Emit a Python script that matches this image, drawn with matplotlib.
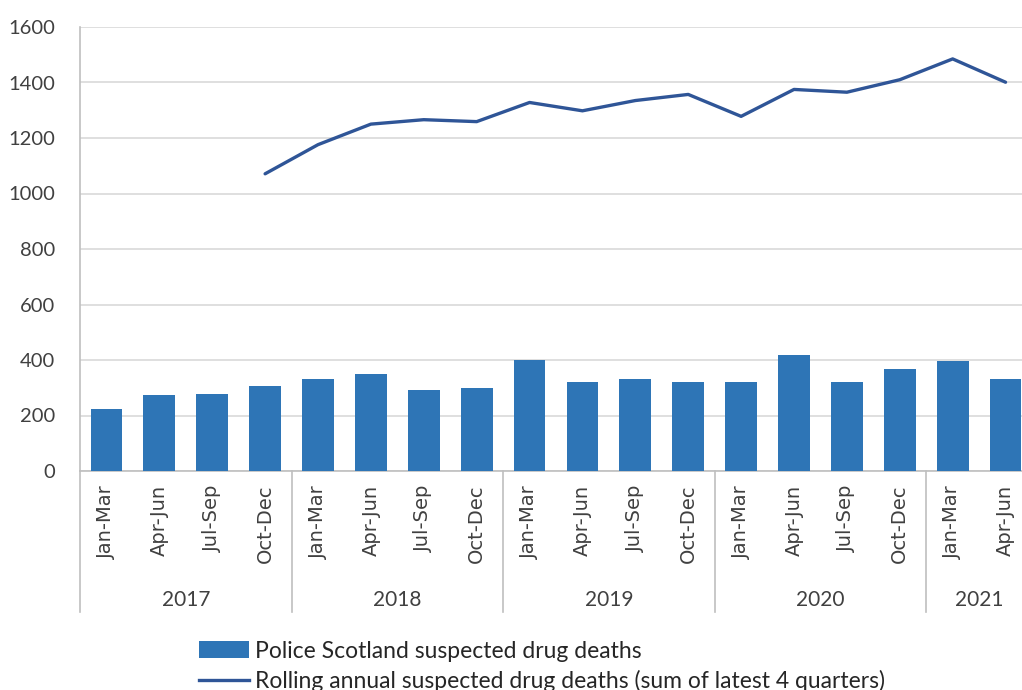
import numpy as np
import matplotlib
matplotlib.use('Agg')
import matplotlib.pyplot as plt
from matplotlib.patches import Patch
from matplotlib.lines import Line2D
import matplotlib.transforms as mtransforms

# Datos
trimestres = ['Jan-Mar', 'Apr-Jun', 'Jul-Sep', 'Oct-Dec'] * 4 + ['Jan-Mar', 'Apr-Jun']
anios = ['2017', '2018', '2019', '2020', '2021']
trimestres_por_anio = [4, 4, 4, 4, 2]
muertes = [224, 273, 276, 308,
           330, 350, 292, 298,
           399, 319, 330, 322,
           322, 417, 319, 368,
           396, 333]
anual_movil = [None, None, None, 1071,
               1176, 1250, 1266, 1259,
               1328, 1298, 1335, 1357,
               1278, 1375, 1365, 1410,
               1485, 1401]

plt.rcParams['font.family'] = ['Lato', 'DejaVu Sans']

fig = plt.figure(figsize=(10.22, 6.9), dpi=100)
ax = fig.add_axes([80 / 1022, 219 / 690, 952 / 1022, 444 / 690])

x = np.arange(len(muertes))
ax.bar(x, muertes, width=0.6, color='#2E75B6', zorder=3)

xl = [i for i, v in enumerate(anual_movil) if v is not None]
yl = [v for v in anual_movil if v is not None]
ax.plot(xl, yl, color='#2F5597', linewidth=2.4, zorder=4, solid_capstyle='round')

ax.set_xlim(-0.5, len(muertes) - 0.5)
ax.set_ylim(0, 1600)
ax.set_yticks(np.arange(0, 1601, 200))
ax.grid(axis='y', color='#d9d9d9', linewidth=1.2, zorder=0)
for s in ['top', 'right']:
    ax.spines[s].set_visible(False)
ax.spines['left'].set_color('#bfbfbf')
ax.spines['bottom'].set_color('#bfbfbf')
ax.spines['left'].set_linewidth(1.2)
ax.spines['bottom'].set_linewidth(1.2)
ax.tick_params(axis='y', length=0, labelsize=14.5, labelcolor='#404040', pad=18)
ax.set_xticks(x)
ax.set_xticklabels(trimestres)
for etiqueta in ax.get_xticklabels():
    etiqueta.set_rotation(90)
    etiqueta.set_fontfamily('DejaVu Sans')
    etiqueta.set_fontsize(14)
    etiqueta.set_color('#404040')
ax.tick_params(axis='x', length=0, pad=10)

# Separadores y etiquetas de anio
trans = mtransforms.blended_transform_factory(ax.transData, ax.transAxes)
fondo = -(612 - 471) / 444
inicio = 0
for anio, n in zip(anios, trimestres_por_anio):
    ax.plot([inicio - 0.5, inicio - 0.5], [0, fondo], transform=trans,
            color='#bfbfbf', linewidth=1.2, clip_on=False)
    ax.text(inicio + (n - 1) / 2, -(600 - 471) / 444, anio, transform=trans,
            ha='center', va='center', fontsize=15, color='#404040')
    inicio += n
ax.plot([inicio - 0.5, inicio - 0.5], [0, fondo], transform=trans,
        color='#bfbfbf', linewidth=1.2, clip_on=False)

# Leyenda
handles = [Patch(facecolor='#2E75B6', edgecolor='none'),
           Line2D([0], [0], color='#2F5597', linewidth=2.4)]
labels = ['Police Scotland suspected drug deaths',
          'Rolling annual suspected drug deaths (sum of latest 4 quarters)']
fig.legend(handles, labels, loc='upper left', bbox_to_anchor=(178 / 1022, 1 - 620 / 690),
           frameon=False, fontsize=16.5, handlelength=2.2, handleheight=0.75,
           handletextpad=0.25, labelspacing=0.35, labelcolor='#262626')

fig.savefig('out.png', dpi=100)
